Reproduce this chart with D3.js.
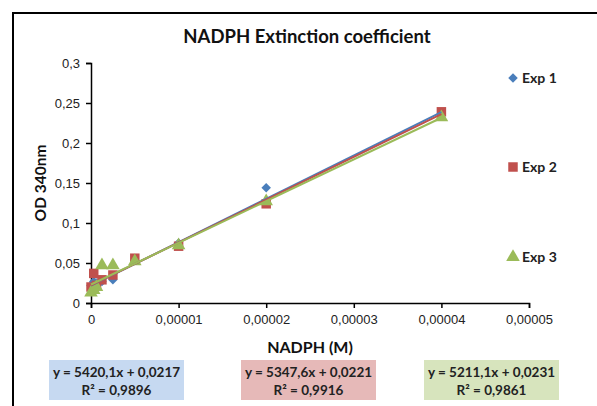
<!DOCTYPE html>
<html lang="en">
<head>
<meta charset="utf-8">
<title>NADPH Extinction coefficient</title>
<script src="https://cdnjs.cloudflare.com/ajax/libs/d3/7.8.5/d3.min.js"></script>
<style>
  body { margin: 0; background: #fff; }
  svg { display: block; font-family: Lato, "Open Sans", sans-serif; }
  .tick text { font-size: 13px; fill: #222; }
</style>
</head>
<body>
<div id="chart"></div>
<script>
// data
const concentrations = [0, 0.0000003125, 0.000000625, 0.00000125, 0.0000025, 0.000005, 0.00001, 0.00002, 0.00004];
const exp1 = [0.022, 0.027, 0.025, 0.027, 0.029, 0.053, 0.075, 0.144, 0.237];
const exp2 = [0.020, 0.037, 0.022, 0.029, 0.035, 0.056, 0.071, 0.124, 0.239];
const exp3 = [0.013, 0.016, 0.020, 0.047, 0.047, 0.052, 0.072, 0.127, 0.232];
const seriesNames = ["Exp 1", "Exp 2", "Exp 3"];
const slopes = [5420.1, 5347.6, 5211.1];
const intercepts = [0.0217, 0.0221, 0.0231];
const rSquared = ["0,9896", "0,9916", "0,9861"];
const xTicks = [0, 0.00001, 0.00002, 0.00003, 0.00004, 0.00005];
const yTicks = [0, 0.05, 0.1, 0.15, 0.2, 0.25, 0.3];

const width = 597, height = 406;
const colors = ["#4A7EBB", "#C0504D", "#9BBB59"];
const boxColors = ["#C6D9F1", "#E6B9B8", "#D7E4BD"];

const svg = d3.select("#chart").append("svg")
  .attr("width", width).attr("height", height);

// frame
svg.append("rect")
  .attr("x", 13).attr("y", 13)
  .attr("width", 700).attr("height", 500)
  .attr("fill", "none").attr("stroke", "#000").attr("stroke-width", 2);

const x = d3.scaleLinear().domain([0, 0.00005]).range([91, 529]);
const y = d3.scaleLinear().domain([0, 0.3]).range([303, 63]);

const comma = v => String(+v.toFixed(6)).replace(".", ",");

svg.append("g")
  .attr("transform", "translate(0,303)")
  .call(d3.axisBottom(x).tickValues(xTicks).tickFormat(d => d === 0 ? "0" : d.toFixed(5).replace(".", ",")).tickSize(5).tickPadding(7))
  .call(g => g.select(".domain").attr("stroke-width", 1.5))
  .call(g => g.selectAll(".tick line").attr("stroke-width", 1.5));

svg.append("g")
  .attr("transform", "translate(91,0)")
  .call(d3.axisLeft(y).tickValues(yTicks).tickFormat(comma).tickSize(5).tickPadding(6))
  .call(g => g.select(".domain").attr("stroke-width", 1.5))
  .call(g => g.selectAll(".tick line").attr("stroke-width", 1.5));

// titles
svg.append("text").attr("x", 307).attr("y", 43).attr("text-anchor", "middle")
  .attr("font-size", 18.5).attr("font-weight", "bold").attr("fill", "#111").text("NADPH Extinction coefficient");
svg.append("text").attr("transform", "translate(46,183) rotate(-90)").attr("text-anchor", "middle")
  .attr("font-size", 15.5).attr("font-weight", "bold").attr("fill", "#111").text("OD 340nm");
svg.append("text").attr("x", 310).attr("y", 353).attr("text-anchor", "middle")
  .attr("font-size", 16).attr("font-weight", "bold").attr("fill", "#111").text("NADPH (M)");

const symbols = [d3.symbolSquare, d3.symbolSquare, d3.symbolTriangle];
const symbolSizes = [45, 90, 80];
const rotations = [45, 0, 0];
const allSeries = [exp1, exp2, exp3];

// markers
allSeries.forEach((vals, i) => {
  svg.append("g").selectAll("path")
    .data(vals.map((v, j) => [concentrations[j], v]))
    .join("path")
    .attr("transform", d => `translate(${x(d[0])},${y(d[1])}) rotate(${rotations[i]})`)
    .attr("d", d3.symbol(symbols[i], symbolSizes[i]))
    .attr("fill", colors[i]);
});

// trendlines
const line = d3.line().x(d => x(d[0])).y(d => y(d[1]));
allSeries.forEach((vals, i) => {
  const xs = [0, 0.00004];
  svg.append("path")
    .datum(xs.map(c => [c, slopes[i] * c + intercepts[i]]))
    .attr("d", line)
    .attr("fill", "none").attr("stroke", colors[i]).attr("stroke-width", 2);
});

// legend
const legendY = [78, 167, 257];
seriesNames.forEach((name, i) => {
  const g = svg.append("g").attr("transform", `translate(513,${legendY[i]})`);
  g.append("path").attr("transform", `rotate(${rotations[i]})`)
    .attr("d", d3.symbol(symbols[i], symbolSizes[i])).attr("fill", colors[i]);
  g.append("text").attr("x", 9).attr("y", 5).attr("font-size", 14).attr("font-weight", "bold")
    .attr("fill", "#222").text(name);
});

// equation boxes
const boxX = [49, 241, 424];
seriesNames.forEach((name, i) => {
  const g = svg.append("g").attr("transform", `translate(${boxX[i]},360)`);
  g.append("rect").attr("width", 135).attr("height", 40).attr("fill", boxColors[i]);
  g.append("text").attr("x", 67.5).attr("y", 17).attr("text-anchor", "middle")
    .attr("font-size", 13.5).attr("font-weight", "bold").attr("fill", "#222")
    .text(`y = ${String(slopes[i]).replace(".", ",")}x + ${String(intercepts[i]).replace(".", ",")}`);
  g.append("text").attr("x", 67.5).attr("y", 35).attr("text-anchor", "middle")
    .attr("font-size", 13.5).attr("font-weight", "bold").attr("fill", "#222")
    .text(`R² = ${rSquared[i]}`);
});
</script>
</body>
</html>
